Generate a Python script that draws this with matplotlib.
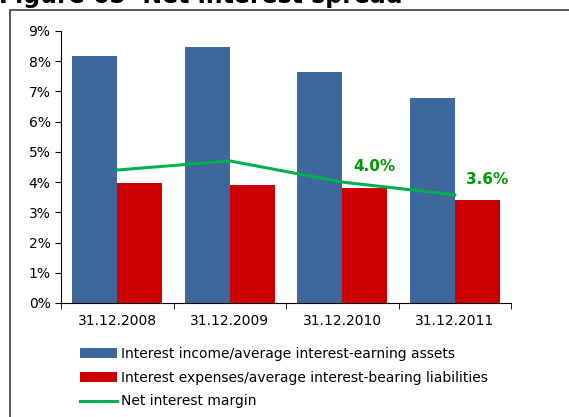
import numpy as np
import matplotlib
matplotlib.use("Agg")
import matplotlib.pyplot as plt
from matplotlib.patches import Rectangle

# data
years = ["31.12.2008", "31.12.2009", "31.12.2010", "31.12.2011"]
income_ratio = [8.18, 8.48, 7.65, 6.79]
expense_ratio = [3.97, 3.91, 3.81, 3.41]
net_margin = [4.40, 4.70, 4.00, 3.58]
margin_labels = ["", "", "4.0%", "3.6%"]

blue = "#3E679C"
red = "#CC0000"
green = "#00B050"

fig = plt.figure(figsize=(5.69, 4.17), dpi=100)
ax = fig.add_axes([0.1072, 0.2734, 0.7909, 0.6523])

x = np.arange(len(years))
w = 0.4
b1 = ax.bar(x - w / 2, income_ratio, width=w, color=blue)
b2 = ax.bar(x + w / 2, expense_ratio, width=w, color=red)
ln, = ax.plot(x, net_margin, color=green, lw=2.2)

for xi, v, lab in zip(x, net_margin, margin_labels):
    if lab:
        ax.annotate(lab, (xi, v), xytext=(23, 11), textcoords="offset points",
                    color="#009900", fontsize=11, fontweight="bold",
                    ha="center", va="center")

ax.set_xlim(-0.5, 3.5)
ax.set_ylim(0, 9)
ax.set_yticks(range(10))
ax.set_yticklabels([f"{i}%" for i in range(10)], fontsize=10)
ax.set_xticks(x)
ax.set_xticklabels(years, fontsize=10)
ax.set_xticks(np.arange(-0.5, 4, 1), minor=True)
ax.tick_params(axis="x", which="major", length=0, pad=8)
ax.tick_params(axis="x", which="minor", length=4, direction="out")
ax.tick_params(axis="y", length=4, direction="out")
for s in ["top", "right"]:
    ax.spines[s].set_visible(False)

fig.legend([b1, b2, ln],
           ["Interest income/average interest-earning assets",
            "Interest expenses/average interest-bearing liabilities",
            "Net interest margin"],
           loc="upper left", bbox_to_anchor=(0.14, 0.168),
           frameon=False, fontsize=10, handlelength=2.7, handletextpad=0.3,
           labelspacing=0.7, borderaxespad=0, borderpad=0)

# outer frame of the figure (partly cut off like in the source)
fig.patches.append(Rectangle((10 / 569, -0.05), 1.2, 1 - 10 / 417 + 0.05,
                             transform=fig.transFigure, fill=False, ec="#404040", lw=1.2))

# title is only partly visible at the top edge in the source
fig.text(-0.002, 1 - 3 / 417, "Figure 65  Net interest spread", fontsize=17,
         fontweight="bold", va="baseline", ha="left")

fig.savefig("out.png", dpi=100)
